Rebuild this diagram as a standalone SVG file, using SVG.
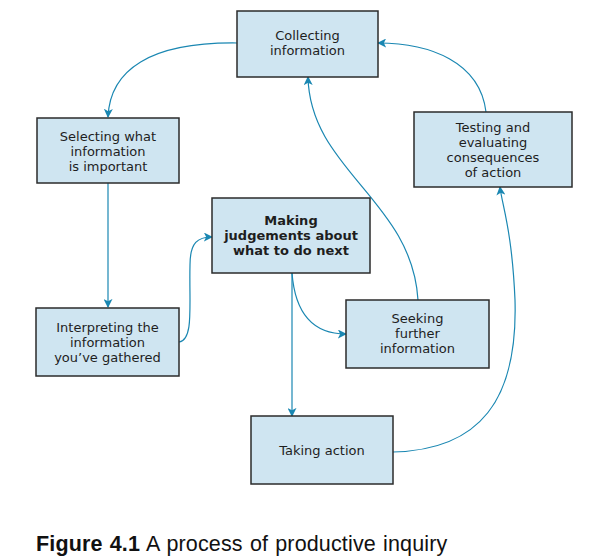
<svg xmlns="http://www.w3.org/2000/svg" width="593" height="560" viewBox="0 0 593 560">
<style>
.box{fill:#cfe5f1;stroke:#2b2b2b;stroke-width:1.5}
.t{font-family:"DejaVu Sans",Verdana,sans-serif;font-size:13px;fill:#1e1e1e;text-anchor:middle}
.b{font-weight:bold}
.c{fill:none;stroke:#1a87b2;stroke-width:1.2;marker-end:url(#ah)}
</style>
<defs>
<marker id="ah" viewBox="0 0 10 10" refX="9" refY="5" markerWidth="9" markerHeight="9" markerUnits="userSpaceOnUse" orient="auto">
<path d="M0,0 L10,5 L0,10 L2.5,5 Z" fill="#1a87b2"/>
</marker>
</defs>
<rect width="593" height="560" fill="#fff"/>
<g id="connectors">
<path class="c" d="M237,43 C150,42 110,70 108,117"/>
<path class="c" d="M108,183 L108,307"/>
<path class="c" d="M179,342 C194,340 189,305 190,265 C190,242 198,237 212,237"/>
<path class="c" d="M292,273 L292,416"/>
<path class="c" d="M292,273 C295,312 312,334 346,334"/>
<path class="c" d="M418,300 C412,200 310,170 308,77"/>
<path class="c" d="M393,452 C480,450 518,400 515,300 C512,230 502,205 500,187"/>
<path class="c" d="M486,112 C480,62 430,43 378,43"/>
</g>
<g id="collecting">
<rect class="box" x="237" y="11" width="141" height="66"/>
<text class="t" x="307.5" y="40">Collecting</text>
<text class="t" x="307.5" y="55">information</text>
</g>
<g id="selecting">
<rect class="box" x="37" y="118" width="142" height="65"/>
<text class="t" x="108" y="141">Selecting what</text>
<text class="t" x="108" y="156">information</text>
<text class="t" x="108" y="171">is important</text>
</g>
<g id="making">
<rect class="box" x="212" y="198" width="158" height="75"/>
<text class="t b" x="291" y="225">Making</text>
<text class="t b" x="291" y="240">judgements about</text>
<text class="t b" x="291" y="255">what to do next</text>
</g>
<g id="testing">
<rect class="box" x="414" y="112" width="158" height="75"/>
<text class="t" x="493" y="132">Testing and</text>
<text class="t" x="493" y="147">evaluating</text>
<text class="t" x="493" y="162">consequences</text>
<text class="t" x="493" y="177">of action</text>
</g>
<g id="interpreting">
<rect class="box" x="36" y="308" width="143" height="68"/>
<text class="t" x="107.5" y="332">Interpreting the</text>
<text class="t" x="107.5" y="347">information</text>
<text class="t" x="107.5" y="362">you’ve gathered</text>
</g>
<g id="seeking">
<rect class="box" x="346" y="300" width="143" height="68"/>
<text class="t" x="417.5" y="323">Seeking</text>
<text class="t" x="417.5" y="338">further</text>
<text class="t" x="417.5" y="353">information</text>
</g>
<g id="taking">
<rect class="box" x="251" y="416" width="142" height="68"/>
<text class="t" x="322" y="455">Taking action</text>
</g>
<text x="36" y="551" font-family="Liberation Sans,Arial,sans-serif" font-size="21.5" letter-spacing="0.15" word-spacing="1" fill="#111"><tspan font-weight="bold">Figure 4.1</tspan> A process of productive inquiry</text>
</svg>
